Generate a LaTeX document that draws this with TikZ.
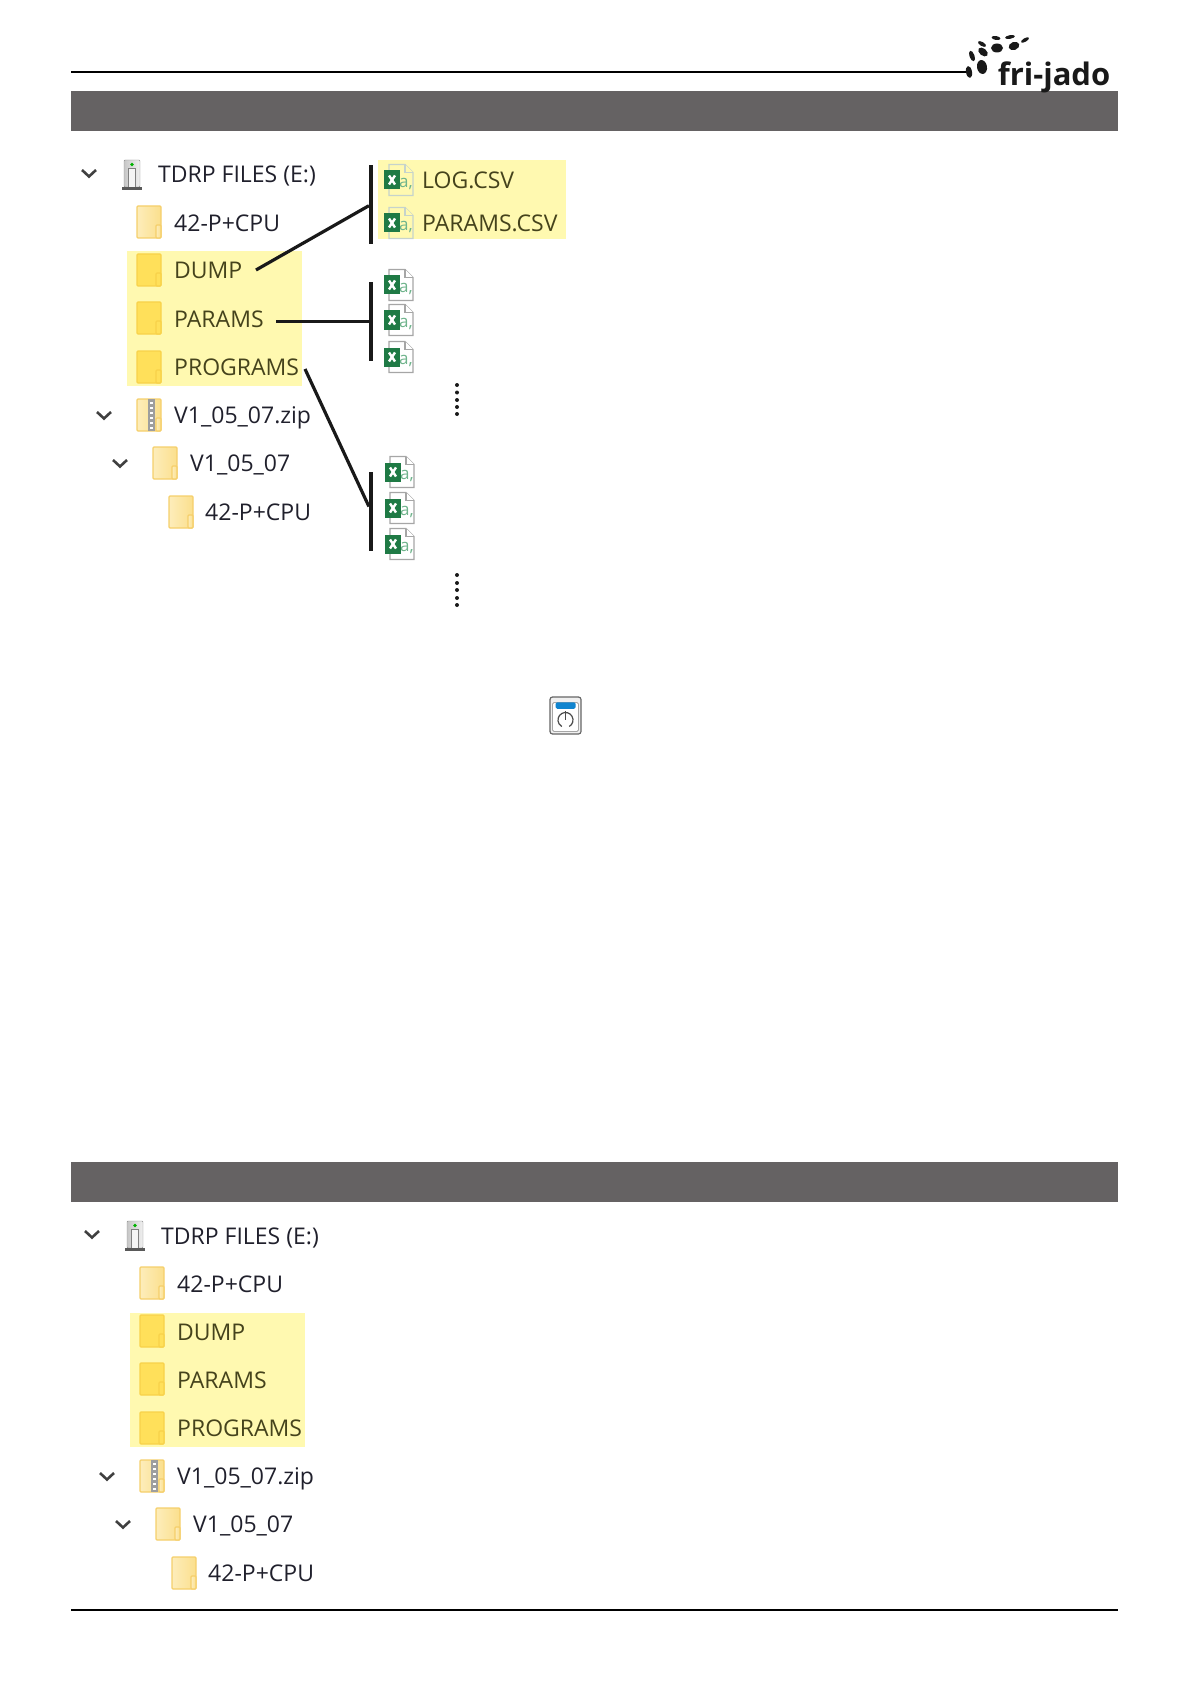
\documentclass[tikz,border=0pt]{standalone}
\usepackage{fontspec}
\setmainfont{Open Sans}
\usetikzlibrary{positioning}

\definecolor{barGrey}{HTML}{656263}
\definecolor{hiliteYellow}{HTML}{FFF9B0}
\definecolor{treeInk}{HTML}{20202C}
\definecolor{hotInk}{HTML}{45431C}
\definecolor{xlsGreen}{HTML}{1F7A45}
\definecolor{xlsLight}{HTML}{6FB48C}
\definecolor{folderEdge}{HTML}{F5CF6B}
\definecolor{folderPale}{HTML}{FDEDBB}
\definecolor{folderDeep}{HTML}{FBDF8C}
\definecolor{hotEdge}{HTML}{F8D24A}
\definecolor{hotFill}{HTML}{FFE05A}
\definecolor{lampBlue}{HTML}{0F84CF}

\tikzset{
    x = 1pt, y = -1pt,
    treetext/.style = {anchor = base west, inner sep = 0pt, text = treeInk, font = \fontsize{23}{27}\selectfont},
    hottext/.style = {treetext, text = hotInk},
    headband/.style = {fill = barGrey, inner sep = 0pt, minimum width = 1047, minimum height = 40},
    hiliteband/.style = {fill = hiliteYellow, inner sep = 0pt},
    tiebar/.style = {fill = black!90, inner sep = 0pt, minimum width = 3.8, minimum height = 79},
    tieline/.style = {line width = 3.2pt, black!90},
    dotcol/.style = {fill = black!90, circle, inner sep = 0pt, minimum size = 4},
    foldercold/.style = {draw = folderEdge, left color = folderPale, right color = folderDeep},
    folderhot/.style = {draw = hotEdge, fill = hotFill},
    folderico/.pic = {
        \draw [pic actions, line width = 1.2pt, rounded corners = 1pt] (-12, -16) rectangle (12, 16);
        \draw [pic actions, line width = 1.2pt, rounded corners = 1pt] (7, 3) rectangle (12, 16);
    },
    chevron/.pic = {
        \draw [line width = 2.6pt, black!75] (-7, -3) -- (0, 3.5) -- (7, -3);
    },
    driveico/.pic = {
        \draw [black!45, left color = black!22, right color = black!6, rounded corners = 1pt] (-8, -15) rectangle (8, 12);
        \draw [black!50, fill = black!4] (-3.5, -7) rectangle (3.5, 12);
        \fill [green!70!black] (0, -10.5) circle (1.8);
        \draw [line width = 2.4pt, black!65] (-10, 13.5) -- (10, 13.5);
    },
    zipico/.pic = {
        \pic [foldercold] {folderico};
        \fill [black!38] (-1.5, -16) rectangle (5.5, 16);
        \foreach \zipy in {-13, -8, ..., 13} {
            \fill [white] (0.5, \zipy) rectangle (3.5, \zipy + 2);
        }
    },
    xlsico/.pic = {
        \draw [pic actions, line width = 1.1pt] (-10, -15.5) -- (6, -15.5) -- (14, -7.5) -- (14, 15.5) -- (-10, 15.5) -- cycle;
        \draw [pic actions, line width = 1.1pt] (6, -15.5) -- (6, -7.5) -- (14, -7.5);
        \node [text = xlsLight, inner sep = 0pt, font = \fontsize{17}{17}\selectfont] at (7, 4) {a,};
        \fill [fill = xlsGreen] (-15, -9.5) rectangle (1, 9.5);
        \draw [white, line width = 2.4pt] (-10, -4.5) -- (-4, 4.5);
        \draw [white, line width = 2.4pt] (-10, 4.5) -- (-4, -4.5);
    },
    xlsplain/.style = {draw = black!35, fill = white},
    filetree/.pic = {
        \pic at (89, 173) {chevron};
        \pic at (132, 175) {driveico};
        \node (drive) [treetext] at (158, 183) {TDRP FILES (E:)};

        \pic [foldercold] at (149, 222) {folderico};
        \node (cpuTop) [treetext] at (174, 231.5) {42-P+CPU};

        \node (hilite) [hiliteband, minimum width = 175, minimum height = 134] at (214.5, 318.5) {};

        \pic [folderhot] at (149, 270) {folderico};
        \node (dump) [hottext] at (174, 279) {DUMP};
        \pic [folderhot] at (149, 318) {folderico};
        \node (params) [hottext] at (174, 327) {PARAMS};
        \pic [folderhot] at (149, 367) {folderico};
        \node (programs) [hottext] at (174, 375.5) {PROGRAMS};

        \pic at (104, 415) {chevron};
        \pic at (149, 415) {zipico};
        \node (zipfile) [treetext] at (174, 423.5) {V1\_05\_07.zip};

        \pic at (120, 463) {chevron};
        \pic [foldercold] at (165, 463) {folderico};
        \node (zipdir) [treetext] at (190, 471.5) {V1\_05\_07};

        \pic [foldercold] at (181, 512) {folderico};
        \node (cpuDeep) [treetext] at (205, 520) {42-P+CPU};
    }
}

\begin{document}
\begin{tikzpicture}
    \useasboundingbox (0, 0) rectangle (1192, 1685);

    % header
    \coordinate (ruleTopL) at (71, 72);
    \coordinate (ruleTopR) at (966, 72);
    \draw [line width = 1.4pt] (ruleTopL) -- (ruleTopR);
    \fill [black!90, rotate around = {10:(969, 72)}] (969, 72) ellipse (3 and 6);
    \fill [black!90, rotate around = {10:(982, 67)}] (982, 67) ellipse (5 and 7);
    \fill [black!90, rotate around = {20:(972, 56)}] (972, 56) ellipse (2.5 and 5.5);
    \fill [black!90, rotate around = {-40:(983, 52)}] (983, 52) ellipse (5.5 and 3.5);
    \fill [black!90, rotate around = {-30:(982, 44)}] (982, 44) ellipse (4.5 and 2);
    \fill [black!90] (997, 48) ellipse (6 and 4.5);
    \fill [black!90, rotate around = {-10:(996, 38)}] (996, 38) ellipse (4.5 and 2);
    \fill [black!90, rotate around = {20:(1014, 46)}] (1014, 46) ellipse (5.5 and 4);
    \fill [black!90, rotate around = {10:(1010, 37)}] (1010, 37) ellipse (5 and 1.8);
    \fill [black!90, rotate around = {30:(1025, 40)}] (1025, 40) ellipse (4.5 and 1.8);

    \node (bandTop) [headband] at (594.5, 111) {};
    \node (logo) [anchor = base east, inner sep = 0pt, text = black!90, font = \fontsize{31}{31}\selectfont\bfseries] at (1110.5, 86) {fri-jado};

    % first tree
    \pic (upper) at (0, 0) {filetree};

    \node (hiliteCsv) [hiliteband, minimum width = 188, minimum height = 79] at (472, 199.5) {};
    \pic [draw = xlsLight!60!black!30, fill = hiliteYellow] at (399, 180) {xlsico};
    \pic [draw = xlsLight!60!black!30, fill = hiliteYellow] at (399, 223) {xlsico};
    \node (logCsv) [hottext] at (422, 189) {LOG.CSV};
    \node (paramsCsv) [hottext] at (422, 232) {PARAMS.CSV};

    \pic [xlsplain] at (399, 285) {xlsico};
    \pic [xlsplain] at (399, 320) {xlsico};
    \pic [xlsplain] at (399, 357) {xlsico};

    \pic [xlsplain] at (400, 472) {xlsico};
    \pic [xlsplain] at (400, 508) {xlsico};
    \pic [xlsplain] at (400, 544) {xlsico};

    \node (barCsv) [tiebar] at (371, 204.5) {};
    \node (barParams) [tiebar] at (371, 321.5) {};
    \node (barPrograms) [tiebar] at (371, 511) {};

    \coordinate (tieDump) at (256, 270);
    \coordinate (tieParams) at (276, 321.5);
    \coordinate (tiePrograms) at (305, 369);
    \draw [tieline] (tieDump) -- (barCsv);
    \draw [tieline] (tieParams) -- (barParams);
    \draw [tieline] (tiePrograms) -- (barPrograms);

    % more files below
    \foreach \doty in {385, 392.5, 400, 407, 414} {
        \node [dotcol] at (457, \doty) {};
    }
    \foreach \doty in {575, 583, 590, 598, 605} {
        \node [dotcol] at (457, \doty) {};
    }

    % power key
    \node (powerKey) [draw = black!60, line width = 1.2pt, fill = black!6, rounded corners = 2.5pt, inner sep = 0pt, minimum width = 31, minimum height = 37] at (565.5, 715.5) {};
    \node (powerFace) [draw = black!35, fill = white, line width = 0.8pt, rounded corners = 1.5pt, inner sep = 0pt, minimum width = 26, minimum height = 29] at (565.5, 717) {};
    \node (powerLamp) [fill = lampBlue, rounded corners = 1.5pt, inner sep = 0pt, minimum width = 20, minimum height = 6.5] at (565.5, 705.5) {};
    \draw [line width = 1.2pt, black!70] (565.5, 720) ++(60:7.5) arc [start angle = 60, end angle = -240, radius = 7.5];
    \draw [line width = 1.2pt, black!70] (565.5, 711) -- (565.5, 719.5);

    % second tree
    \node (bandLow) [headband] at (594.5, 1182) {};
    \pic (lower) at (3, 1061) {filetree};

    % footer
    \coordinate (ruleLowL) at (71, 1610);
    \coordinate (ruleLowR) at (1118, 1610);
    \draw [line width = 1.4pt] (ruleLowL) -- (ruleLowR);
\end{tikzpicture}
\end{document}
